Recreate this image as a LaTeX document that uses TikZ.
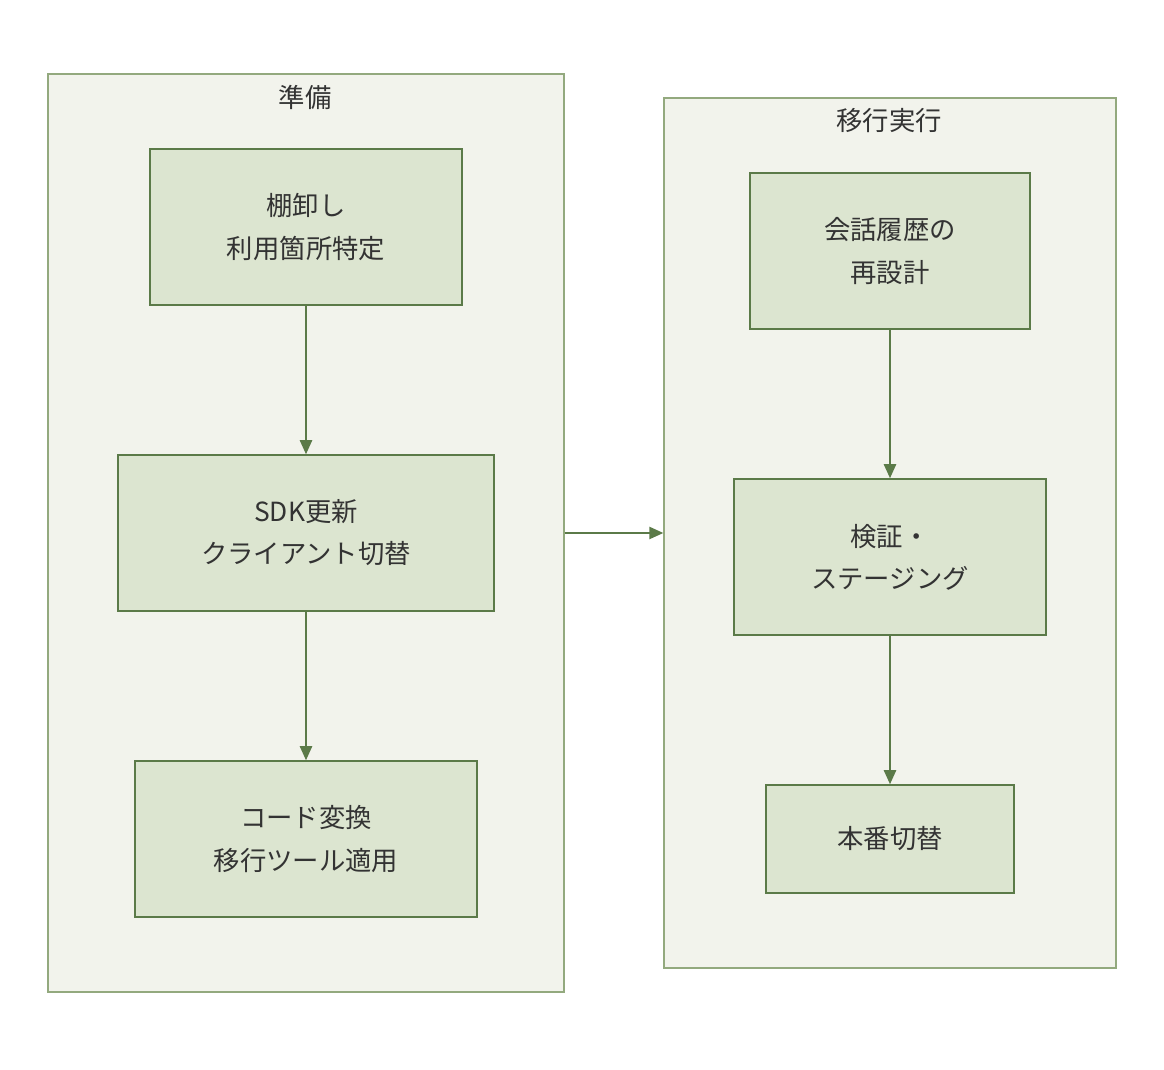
\documentclass[tikz,border=0pt]{standalone}
\usepackage{fontspec}
\setmainfont{Noto Sans CJK JP}
\usetikzlibrary{arrows.meta}
\definecolor{clusterfill}{HTML}{F2F3EC}
\definecolor{clusterline}{HTML}{93A97E}
\definecolor{boxfill}{HTML}{DCE5D0}
\definecolor{boxline}{HTML}{5B7A48}
\definecolor{textcol}{HTML}{333333}

\begin{document}
\begin{tikzpicture}[x=0.02cm,y=-0.02cm,
    cluster/.style={draw=clusterline,fill=clusterfill,line width=0.8pt,inner sep=0},
    stage/.style={draw=boxline,fill=boxfill,line width=0.9pt,align=center,
      text=textcol,inner sep=0,minimum height=3.12cm,
      font=\fontsize{15}{24}\selectfont},
    title/.style={text=textcol,font=\fontsize{15}{18}\selectfont},
    flow/.style={draw=boxline,line width=0.9pt,-{Triangle[length=8pt,width=7pt]}}]
    \useasboundingbox (0,0) rectangle (1164,1070);

    % Clusters
    \node (prep) [cluster,minimum width=10.32cm,minimum height=18.36cm] at (306,533) {};
    \node (exec) [cluster,minimum width=9.04cm,minimum height=17.4cm] at (890,533) {};
    \node (prepT) [title] at (305,97) {準備};
    \node (execT) [title] at (889,121) {移行実行};

    % Stages: preparation
    \node (inv) [stage,minimum width=6.24cm] at (306,227) {棚卸し\\利用箇所特定};
    \node (sdk) [stage,minimum width=7.52cm] at (306,533) {SDK更新\\クライアント切替};
    \node (conv) [stage,minimum width=6.84cm] at (306,839) {コード変換\\移行ツール適用};

    % Stages: execution
    \node (hist) [stage,minimum width=5.6cm] at (890,251) {会話履歴の\\再設計};
    \node (test) [stage,minimum width=6.24cm] at (890,557) {検証・\\ステージング};
    \node (prod) [stage,minimum width=4.96cm,minimum height=2.16cm] at (890,839) {本番切替};

    % Connectors
    \draw [flow] (inv) -- (sdk);
    \draw [flow] (sdk) -- (conv);
    \draw [flow] (hist) -- (test);
    \draw [flow] (test) -- (prod);
    \draw [flow] (sdk -| prep.east) -- (sdk -| exec.west);
\end{tikzpicture}
\end{document}
